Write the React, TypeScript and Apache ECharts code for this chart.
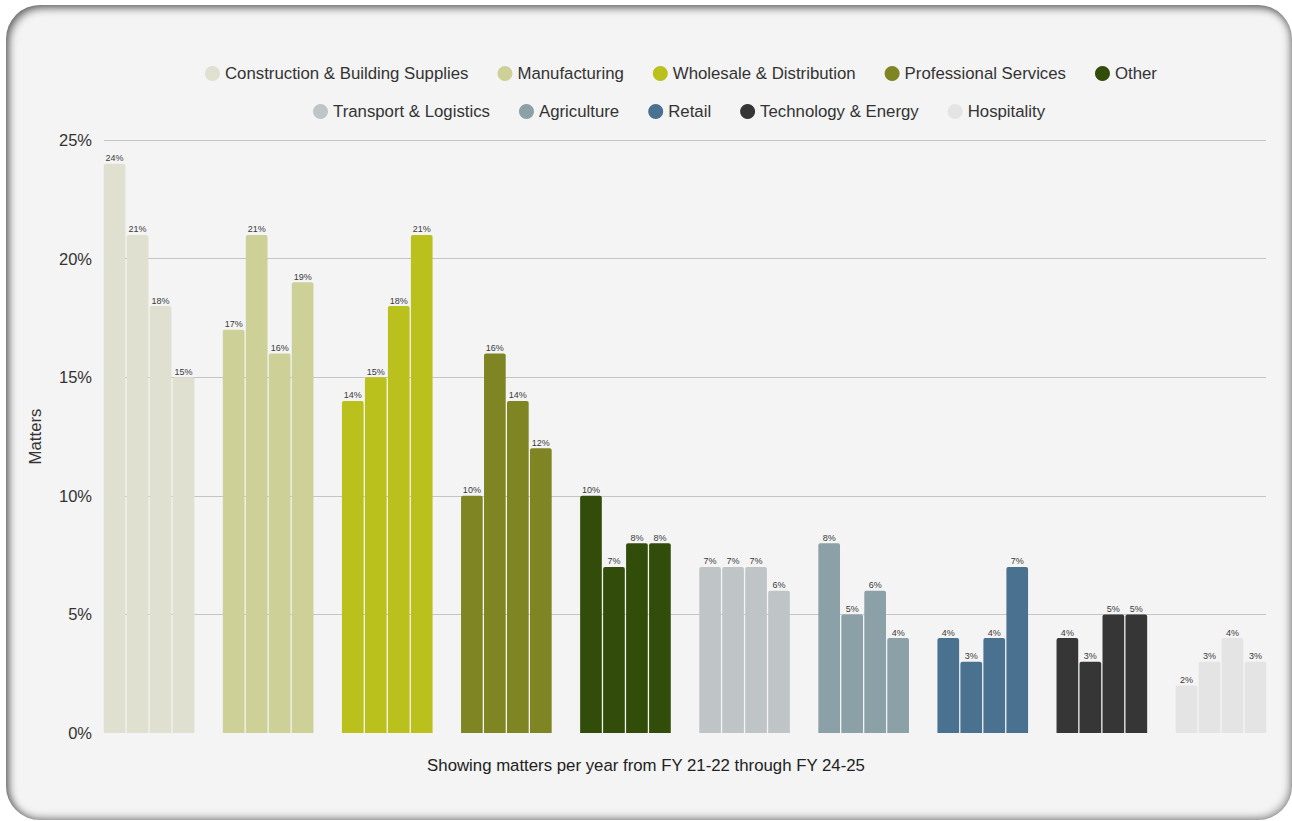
import React, { useEffect, useRef } from "react";
import * as echarts from "echarts";

const industries = [
  "Construction & Building Supplies",
  "Manufacturing",
  "Wholesale & Distribution",
  "Professional Services",
  "Other",
  "Transport & Logistics",
  "Agriculture",
  "Retail",
  "Technology & Energy",
  "Hospitality",
];

const industryColors = [
  "#dfe0cf",
  "#cdd198",
  "#bbc11c",
  "#7f8523",
  "#324d0a",
  "#bfc5c7",
  "#8ca0a7",
  "#4a7290",
  "#363636",
  "#e4e4e4",
];

const years = ["FY 21-22", "FY 22-23", "FY 23-24", "FY 24-25"];

// percentage of matters per industry, per year (index matches industries)
const fy2122 = [24, 17, 14, 10, 10, 7, 8, 4, 4, 2];
const fy2223 = [21, 21, 15, 16, 7, 7, 5, 3, 3, 3];
const fy2324 = [18, 16, 18, 14, 8, 7, 6, 4, 5, 4];
const fy2425 = [15, 19, 21, 12, 8, 6, 4, 7, 5, 3];

const yearValues = [fy2122, fy2223, fy2324, fy2425];

const yTicks = { min: 0, max: 25, interval: 5 };

const FONT = "'Liberation Sans', Arial, Helvetica, sans-serif";

export default function App() {
  const ref = useRef<HTMLDivElement>(null);

  useEffect(() => {
    if (!ref.current) return;
    const chart = echarts.init(ref.current, null, { renderer: "svg" });

    const barSeries = years.map((y, i) => ({
      name: y,
      type: "bar",
      xAxisIndex: 0,
      yAxisIndex: 0,
      barGap: "6%",
      barCategoryGap: "23.9%",
      data: yearValues[i].map((v, k) => ({
        value: v,
        itemStyle: { color: industryColors[k], borderRadius: [2, 2, 0, 0] },
      })),
      label: {
        show: true,
        position: "top",
        distance: 1,
        formatter: "{c}%",
        fontSize: 9,
        color: "#3a3a3a",
        fontFamily: FONT,
      },
    }));

    const legendSeries = industries.map((n, k) => ({
      name: n,
      type: "scatter",
      xAxisIndex: 1,
      yAxisIndex: 1,
      data: [],
      itemStyle: { color: industryColors[k], opacity: 1 },
    }));

    const legendCommon = {
      icon: "circle",
      itemWidth: 15,
      itemHeight: 15,
      itemGap: 29,
      orient: "horizontal",
      itemStyle: { opacity: 1 },
      textStyle: { fontSize: 16.8, color: "#333", fontFamily: FONT },
      selectedMode: false,
    };

    chart.setOption({
      animation: false,
      backgroundColor: "transparent",
      textStyle: { fontFamily: FONT },
      title: {
        text: "Showing matters per year from FY 21-22 through FY 24-25",
        left: "center",
        top: 752,
        textStyle: { fontSize: 16.8, fontWeight: "normal", color: "#222", fontFamily: FONT },
      },
      legend: [
        { ...legendCommon, left: 200, top: 60, data: industries.slice(0, 5) },
        { ...legendCommon, left: 308, top: 98, data: industries.slice(5) },
      ],
      grid: [
        { left: 89.5, right: 11.5, top: 140, bottom: 88 },
        { left: 104, right: 26, top: 140, bottom: 88 },
      ],
      xAxis: [
        { type: "category", gridIndex: 0, data: industries, show: false },
        { type: "category", gridIndex: 1, data: industries, show: false },
      ],
      yAxis: [
        { type: "value", gridIndex: 0, ...yTicks, show: false, splitLine: { show: false } },
        {
          type: "value",
          gridIndex: 1,
          ...yTicks,
          name: "Matters",
          nameLocation: "middle",
          nameGap: 60,
          nameTextStyle: { fontSize: 16.8, color: "#333", fontFamily: FONT },
          axisLine: { show: false },
          axisTick: { show: false },
          axisLabel: {
            formatter: "{value}%",
            fontSize: 16.5,
            color: "#333",
            margin: 12,
            fontFamily: FONT,
          },
          splitLine: { show: true, showMinLine: false, lineStyle: { color: "#c4c4c4", width: 1 } },
        },
      ],
      series: [...barSeries, ...legendSeries],
    });

    return () => chart.dispose();
  }, []);

  return (
    <div style={{ position: "fixed", left: 0, top: 0, width: 1292, height: 821, background: "#ffffff" }}>
      <div
        style={{
          position: "absolute",
          left: 6,
          top: 5,
          width: 1286,
          height: 815,
          borderRadius: 34,
          background: "#f4f4f4",
          boxShadow: "inset 3px 3px 9px rgba(0,0,0,0.55), inset -2px -2px 8px rgba(0,0,0,0.35)",
        }}
      />
      <div ref={ref} style={{ position: "absolute", left: 0, top: 0, width: 1292, height: 821 }} />
    </div>
  );
}
